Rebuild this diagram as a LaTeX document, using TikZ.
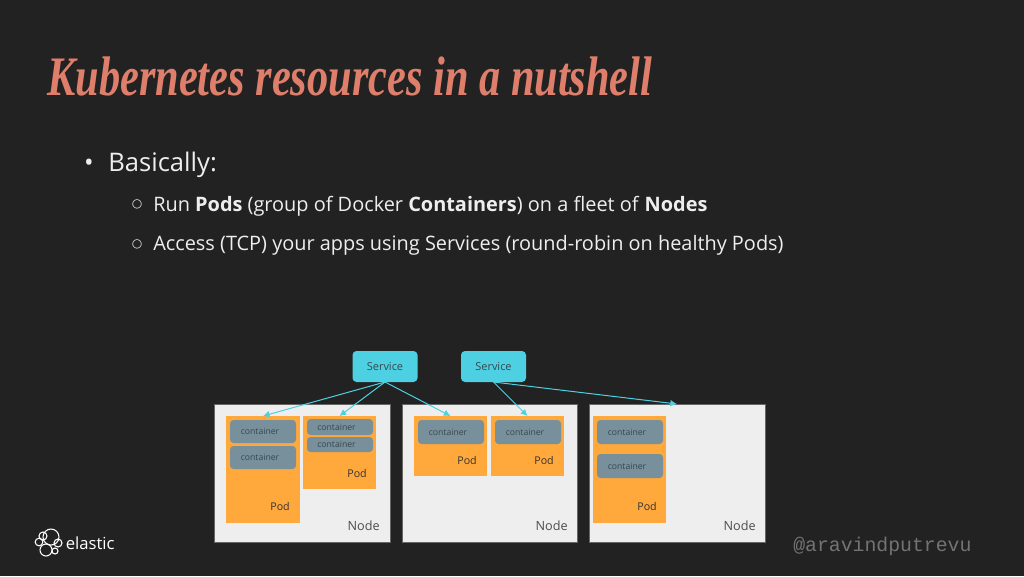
\documentclass[tikz,border=0pt]{standalone}
\usepackage{fontspec}
\setmainfont{Open Sans}
\newfontfamily\handlefont{Liberation Mono}
\newfontfamily\symfont{DejaVu Sans}
\newfontfamily\titlefont{Liberation Serif}
\definecolor{bgc}{HTML}{222222}
\definecolor{titlec}{HTML}{DF7F6B}
\definecolor{cyanc}{HTML}{4DD0E1}
\definecolor{podc}{HTML}{FFA83C}
\definecolor{contc}{HTML}{78909C}
\definecolor{nodec}{HTML}{EEEEEE}
\definecolor{inkc}{HTML}{37474F}
\usetikzlibrary{arrows.meta}
\tikzset{
 x=0.75pt,y=-0.75pt,
 box/.style={inner sep=0,outer sep=0,anchor=north west},
 knode/.style={box,draw=black!60,line width=.6pt,fill=nodec},
 kpod/.style={box,fill=podc},
 kcont/.style={box,fill=contc,rounded corners=2.6pt},
 ksvc/.style={box,fill=cyanc,rounded corners=3pt,text=inkc,align=center,font=\fontsize{8.2}{10}\selectfont},
 clab/.style={inner sep=0,text=inkc,font=\fontsize{6.5}{8}\selectfont},
 plab/.style={inner sep=0,anchor=base east,text=black!80,font=\fontsize{8}{10}\selectfont},
 nlab/.style={inner sep=0,anchor=base east,text=black!70,font=\fontsize{9.5}{11}\selectfont},
 conn/.style={cyanc,line width=.75pt,-{Latex[length=5pt,width=5pt]}},
 body1/.style={inner sep=0,anchor=base west,text=nodec,font=\fontsize{19.2}{23}\selectfont},
 body2/.style={inner sep=0,anchor=base west,text=nodec,font=\fontsize{14.93}{18}\selectfont},
 sym2/.style={inner sep=0,anchor=center,text=nodec,font=\symfont\fontsize{9}{11}\selectfont},
 logo/.style={draw=white,line width=.8pt},
}
\newcommand{\kbox}[6]{\node[#1,minimum width=#5*0.75pt-#3*0.75pt,minimum height=#6*0.75pt-#4*0.75pt] (#2) at (#3,#4) {};}
\begin{document}
\begin{tikzpicture}
\useasboundingbox (0,0) rectangle (1024,576);
\fill[bgc] (0,0) rectangle (1024,576);
\node[inner sep=0,anchor=base west,text=titlec] (title) at (47,95)
  {\resizebox{453.75pt}{29pt}{\titlefont\bfseries\itshape Kubernetes resources in a nutshell}};
\node[inner sep=0,anchor=base,text=nodec,font=\fontsize{19.2}{23}\selectfont] (b0) at (89,171) {•};
\node[body1] (t0) at (108,171) {Basically:};
\node[sym2] (b1) at (137,204.5) {○};
\node[body2] (t1) at (153,211) {Run \textbf{Pods} (group of Docker \textbf{Containers}) on a fleet of \textbf{Nodes}};
\node[sym2] (b2) at (137,244) {○};
\node[body2] (t2) at (153,250.5) {Access (TCP) your apps using Services (round-robin on healthy Pods)};
% nodes
\kbox{knode}{n1}{214}{404}{390}{542}
\kbox{knode}{n2}{402}{404}{577}{542}
\kbox{knode}{n3}{589}{404}{765}{542}
\node[nlab] (nl1) at (380,530) {Node};
\node[nlab] (nl2) at (568,530) {Node};
\node[nlab] (nl3) at (756,530) {Node};
% pods
\kbox{kpod}{p1}{226}{416}{300}{523}
\kbox{kpod}{p2}{303}{416}{376}{489}
\kbox{kpod}{p3}{414}{416}{487}{476}
\kbox{kpod}{p4}{491}{416}{564}{476}
\kbox{kpod}{p5}{593}{416}{666}{523}
\node[plab] (pl1) at (290,510) {Pod};
\node[plab] (pl2) at (367,477) {Pod};
\node[plab] (pl3) at (477,464) {Pod};
\node[plab] (pl4) at (554,464) {Pod};
\node[plab] (pl5) at (657,510) {Pod};
% containers
\kbox{kcont}{c1}{230}{420}{296}{443}
\kbox{kcont}{c2}{230}{446}{296}{469}
\kbox{kcont}{c3}{307}{419}{373}{435}
\kbox{kcont}{c4}{307}{437}{373}{452}
\kbox{kcont}{c5}{418}{420}{484}{444}
\kbox{kcont}{c6}{495}{420}{561}{444}
\kbox{kcont}{c7}{597}{420}{663}{444}
\kbox{kcont}{c8}{597}{454}{663}{478}
\foreach \c/\lx in {c1/260,c2/260,c3/336.5,c4/336.5,c5/448,c6/525,c7/627,c8/627}{
  \node[clab] (l\c) at (\lx,0 |- \c.center) {container};
}
% services
\node[ksvc,minimum width=48.75pt,minimum height=23.25pt] (s1) at (352.5,351) {Service};
\node[ksvc,minimum width=48.75pt,minimum height=23.25pt] (s2) at (461,351) {Service};
\draw[conn] (s1.south) -- (p1.north);
\draw[conn] (s1.south) -- (p2.north);
\draw[conn] (s1.south) -- (p3.north);
\draw[conn] (s2.south) -- (p4.north);
\draw[conn] (s2.south) -- (n3.north);
% logo
\draw[logo] (51,537) circle (8);
\draw[logo] (39,542) circle (3.8);
\draw[logo] (43,536) circle (4);
\draw[logo] (46,550) circle (6);
\draw[logo] (55,551) circle (3);
\draw[logo] (58,543) circle (4);
\node[inner sep=0,anchor=base west,text=white,font=\fontsize{12.5}{15}\selectfont] (elastic) at (65.5,549.5) {elastic};
\node[inner sep=0,anchor=base west,text=black!55] (handle) at (793,551) {\handlefont\fontsize{14.85}{18}\selectfont @aravindputrevu};
\end{tikzpicture}
\end{document}
